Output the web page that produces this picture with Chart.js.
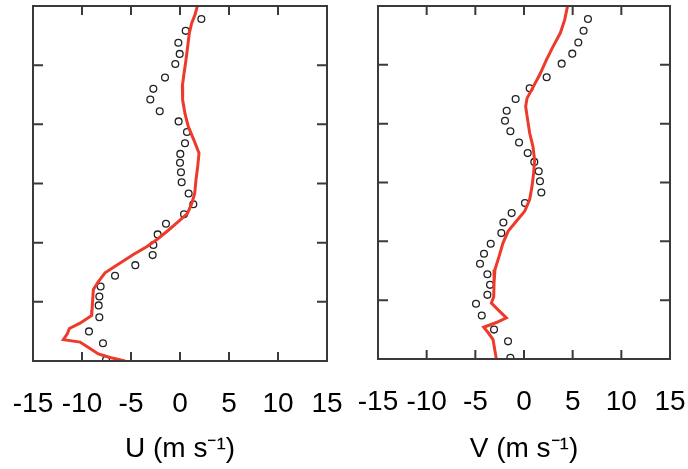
<!DOCTYPE html>
<html>
<head>
<meta charset="utf-8">
<script src="https://cdn.jsdelivr.net/npm/chart.js@4"></script>
<style>
  html, body { margin: 0; padding: 0; background: #fff; }
  #wrap { position: relative; width: 688px; height: 469px; overflow: hidden; }
  .panel { position: absolute; top: 0; height: 469px; }
  #pu { left: 0; width: 345px; }
  #pv { left: 345px; width: 343px; }
</style>
</head>
<body>
<div id="wrap">
  <div class="panel" id="pu"><canvas id="cu"></canvas></div>
  <div class="panel" id="pv"><canvas id="cv"></canvas></div>
</div>
<script>
// Sounding levels (height, 0-6 axis units) shared by both wind components
const obsHeight = [5.78, 5.58, 5.38, 5.19, 5.02, 4.79, 4.60, 4.42, 4.22, 4.05,
                   3.87, 3.68, 3.50, 3.35, 3.19, 3.02, 2.83, 2.65, 2.48, 2.32,
                   2.14, 1.96, 1.79, 1.62, 1.44, 1.26, 1.09, 0.94, 0.74, 0.50,
                   0.30, 0.02];

// Observed zonal wind U (m/s)
const obsU = [2.18, 0.58, -0.17, -0.03, -0.48, -1.53, -2.72, -3.03, -2.07, -0.14,
              0.71, 0.51, 0.03, 0.00, 0.10, 0.17, 0.88, 1.36, 0.41, -1.43,
              -2.28, -2.72, -2.79, -4.56, -6.63, -8.10, -8.23, -8.30, -8.23, -9.29,
              -7.86, -7.55];

// Observed meridional wind V (m/s)
const obsV = [6.57, 6.12, 5.58, 4.96, 3.87, 2.33, 0.58, -0.86, -1.78, -1.95,
              -1.40, -0.51, 0.38, 1.06, 1.51, 1.64, 1.78, 0.10, -1.27, -2.12,
              -2.33, -3.42, -4.11, -4.52, -3.76, -3.49, -3.76, -4.93, -4.34, -3.08,
              -1.64, -1.40];

// Simulated U profile
const modelHeightU = [6.00, 5.85, 5.71, 5.54, 5.31, 5.09, 4.86, 4.65, 4.41, 4.18,
                      3.96, 3.73, 3.51, 3.28, 3.06, 2.83, 2.66, 2.49, 2.38, 2.21,
                      2.05, 1.93, 1.80, 1.62, 1.49, 1.34, 1.21, 1.03, 0.86, 0.77,
                      0.64, 0.55, 0.46, 0.36, 0.32, 0.24, 0.12, 0.06, 0.00];
const modelU = [1.77, 1.53, 1.19, 0.95, 0.78, 0.61, 0.41, 0.24, 0.27, 0.51,
                0.85, 1.43, 1.94, 1.80, 1.63, 1.50, 1.19, 0.75, 0.00, -1.19,
                -2.38, -3.40, -4.76, -6.46, -7.65, -8.33, -8.84, -8.91, -8.98, -9.01,
                -10.20, -11.29, -11.50, -11.90, -10.20, -9.46, -8.33, -7.14, -5.61];

// Simulated V profile
const modelHeightV = [6.00, 5.76, 5.54, 5.31, 5.08, 4.83, 4.60, 4.43, 4.29, 4.06,
                      3.84, 3.61, 3.38, 3.16, 2.93, 2.71, 2.51, 2.34, 2.17, 1.97,
                      1.74, 1.52, 1.29, 1.06, 0.95, 0.81, 0.70, 0.62, 0.54, 0.45,
                      0.33, 0.16, 0.00];
const modelV = [4.48, 4.17, 3.73, 2.98, 2.29, 1.61, 0.86, 0.31, 0.17, 0.38,
                0.58, 0.92, 1.09, 0.99, 0.82, 0.58, 0.07, -0.79, -1.64, -2.16,
                -2.57, -2.98, -3.08, -3.11, -3.35, -2.50, -1.81, -2.84, -4.14, -3.69,
                -3.18, -3.01, -2.84];

// Axis settings
const windMin = -15, windMax = 15, windStep = 5;
const heightMin = 0, heightMax = 6, heightStep = 1;

const FONT = "'Liberation Sans', Arial, Helvetica, sans-serif";
const LINE_RED = 'rgb(238, 58, 42)';
const FRAME = '#3a3a3a';

// Frame around the plot area with inward-pointing tick marks on all four sides
const framePlugin = {
  id: 'frame',
  afterDatasetsDraw(chart) {
    const { ctx, chartArea: a, scales } = chart;
    const xs = scales.x, ys = scales.y;
    ctx.save();
    ctx.strokeStyle = FRAME;
    ctx.lineWidth = 2;
    ctx.beginPath();
    for (let v = windMin + windStep; v < windMax; v += windStep) {
      const px = xs.getPixelForValue(v);
      ctx.moveTo(px, a.top); ctx.lineTo(px, a.top + 9);
      ctx.moveTo(px, a.bottom); ctx.lineTo(px, a.bottom - 9);
    }
    for (let h = heightMin + heightStep; h < heightMax; h += heightStep) {
      const py = ys.getPixelForValue(h);
      ctx.moveTo(a.left, py); ctx.lineTo(a.left + 10, py);
      ctx.moveTo(a.right, py); ctx.lineTo(a.right - 10, py);
    }
    ctx.stroke();
    ctx.strokeRect(a.left, a.top, a.right - a.left, a.bottom - a.top);
    ctx.restore();
  }
};

function makeChart(id, title, obs, mHeight, mVals, rightPad, axisHeight) {
  const obsPts = obsHeight.map((h, i) => ({ x: obs[i], y: h }));
  const modelPts = mHeight.map((h, i) => ({ x: mVals[i], y: h }));
  return new Chart(document.getElementById(id), {
    type: 'scatter',
    data: {
      datasets: [
        {
          label: 'model',
          data: modelPts,
          showLine: true,
          borderColor: LINE_RED,
          borderWidth: 3,
          pointRadius: 0,
          tension: 0,
          order: 0
        },
        {
          label: 'observed',
          data: obsPts,
          showLine: false,
          pointStyle: 'circle',
          pointRadius: 3.4,
          pointBorderWidth: 1.3,
          pointBorderColor: '#222',
          pointBackgroundColor: 'rgba(0,0,0,0)',
          order: 1
        }
      ]
    },
    options: {
      responsive: true,
      maintainAspectRatio: false,
      animation: false,
      events: [],
      layout: { padding: { left: 33, right: rightPad, top: 6, bottom: 0 } },
      plugins: { legend: { display: false }, tooltip: { enabled: false } },
      scales: {
        x: {
          type: 'linear',
          position: 'bottom',
          min: windMin,
          max: windMax,
          grid: { display: false, drawTicks: false },
          border: { display: false },
          afterFit(scale) {
            scale.height = axisHeight;
            scale.paddingLeft = 0;
            scale.paddingRight = 0;
          },
          ticks: {
            stepSize: windStep,
            padding: 26,
            color: '#000',
            maxRotation: 0,
            autoSkip: false,
            font: { family: FONT, size: 28 }
          },
          title: {
            display: true,
            text: title,
            color: '#000',
            padding: { top: 0, bottom: 3 },
            font: { family: FONT, size: 28 }
          }
        },
        y: {
          type: 'linear',
          display: false,
          min: heightMin,
          max: heightMax
        }
      }
    },
    plugins: [framePlugin]
  });
}

makeChart('cu', 'U (m s\u207B\u00B9)', obsU, modelHeightU, modelU, 18, 108);
makeChart('cv', 'V (m s\u207B\u00B9)', obsV, modelHeightV, modelV, 18, 110);
</script>
</body>
</html>
